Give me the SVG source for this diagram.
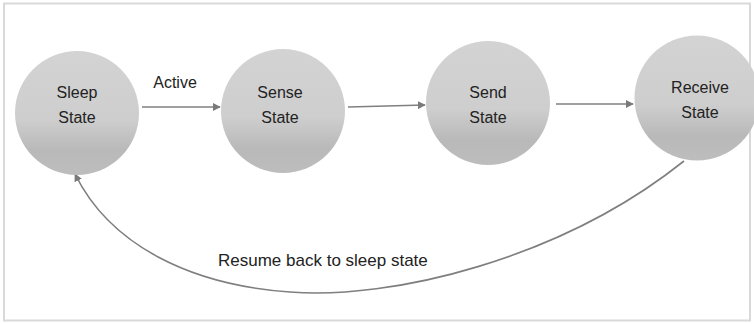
<svg xmlns="http://www.w3.org/2000/svg" width="754" height="324" viewBox="0 0 754 324">
  <defs>
    <linearGradient id="fillG" x1="0" y1="0" x2="0" y2="1">
      <stop offset="0" stop-color="#d3d3d3"/>
      <stop offset="0.55" stop-color="#cecece"/>
      <stop offset="0.8" stop-color="#b9b9b9"/>
      <stop offset="1" stop-color="#bdbdbd"/>
    </linearGradient>
    <marker id="arr" viewBox="0 0 10 10" refX="9" refY="5" markerWidth="5" markerHeight="5" markerUnits="strokeWidth" orient="auto">
      <path d="M0,0 L10,5 L0,10 Z" fill="#7a7a7a"/>
    </marker>
    <style>
      .state { fill: url(#fillG); stroke: none; }
      .lbl { font-family: "Liberation Sans", Arial, sans-serif; font-size: 16px; fill: #222; text-anchor: middle; }
      .conn { fill: none; stroke: #7f7f7f; stroke-width: 1.6; marker-end: url(#arr); }
      .elbl { font-family: "Liberation Sans", Arial, sans-serif; fill: #222; }
    </style>
  </defs>
  <rect x="0" y="0" width="754" height="324" fill="#ffffff"/>
  <rect x="4" y="3.5" width="746" height="317" fill="none" stroke="#d9d9d9" stroke-width="2"/>

  <g id="connectors">
    <line class="conn" x1="142" y1="107" x2="220" y2="107"/>
    <line class="conn" x1="348" y1="107" x2="425" y2="105"/>
    <line class="conn" x1="556" y1="104" x2="633" y2="104"/>
    <path class="conn" d="M684,161 C560,260 390,300 290,292 C190,285 110,245 75,174"/>
    <text class="elbl" x="175" y="88" font-size="16" text-anchor="middle">Active</text>
    <text class="elbl" x="218" y="266" font-size="17">Resume back to sleep state</text>
  </g>

  <g id="sleep">
    <circle class="state" cx="77" cy="113" r="62"/>
    <text class="lbl" x="77" y="98">Sleep</text>
    <text class="lbl" x="77" y="123">State</text>
  </g>
  <g id="sense">
    <circle class="state" cx="283" cy="111" r="62"/>
    <text class="lbl" x="280" y="98">Sense</text>
    <text class="lbl" x="280" y="123">State</text>
  </g>
  <g id="send">
    <circle class="state" cx="488" cy="103" r="62"/>
    <text class="lbl" x="488" y="98">Send</text>
    <text class="lbl" x="488" y="123">State</text>
  </g>
  <g id="receive">
    <circle class="state" cx="697" cy="98" r="62.5"/>
    <text class="lbl" x="700" y="93">Receive</text>
    <text class="lbl" x="700" y="118">State</text>
  </g>
</svg>
